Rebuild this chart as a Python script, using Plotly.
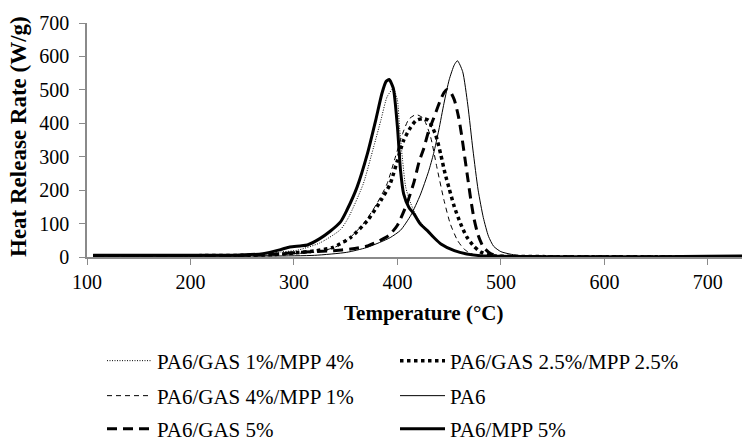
import plotly.graph_objects as go

# ---------------- data ----------------
t_gas1 = [106, 200, 250, 270, 287, 303, 325, 345, 353, 367, 377, 384, 390, 396, 400, 402, 405, 408, 413, 419, 429, 438, 448, 461, 474, 500, 600, 700, 733]
h_gas1 = [4, 4, 5, 8, 15, 20, 42, 82, 120, 219, 329, 409, 479, 504, 469, 389, 289, 209, 159, 119, 79, 49, 29, 14, 7, 2, 1, 2, 3]

t_gas25 = [106, 200, 250, 280, 300, 320, 338, 355, 371, 384, 393, 400, 406, 413, 418, 424, 430, 437, 442, 446, 450, 455, 461, 467, 474, 480, 487, 495, 550, 733]
h_gas25 = [4, 4, 5, 7, 12, 18, 29, 59, 109, 169, 219, 289, 349, 389, 408, 414, 409, 365, 305, 250, 205, 150, 100, 60, 32, 16, 7, 3, 1, 1]

t_gas4 = [106, 200, 250, 280, 300, 325, 340, 351, 367, 380, 390, 398, 405, 411, 418, 425, 432, 438, 445, 451, 458, 464, 471, 480, 500, 733]
h_gas4 = [3, 3, 4, 6, 10, 16, 30, 49, 99, 159, 219, 299, 369, 412, 426, 415, 360, 270, 170, 100, 50, 25, 10, 3, 1, 1]

t_pa6 = [106, 200, 280, 320, 351, 370, 384, 393, 403, 413, 422, 430, 435, 440, 445, 450, 455, 458, 463, 468, 473, 478, 483, 488, 493, 500, 510, 520, 550, 700, 733]
h_pa6 = [2, 2, 3, 5, 14, 28, 45, 58, 80, 125, 185, 255, 310, 380, 460, 530, 575, 587, 555, 455, 320, 200, 118, 62, 32, 16, 8, 4, 1, 2, 3]

t_gas5 = [106, 200, 250, 280, 306, 338, 355, 370, 383, 392, 400, 409, 416, 421, 425.5, 430, 435, 441, 445, 448, 451, 455, 459, 462, 465, 468, 471, 474, 478, 483, 490, 497, 550, 733]
h_gas5 = [4, 4, 5, 8, 14, 19, 24, 32, 49, 65, 95, 158, 224, 285, 325, 375, 415, 465, 492, 501, 495, 470, 420, 365, 300, 235, 170, 115, 65, 30, 10, 3, 1, 1]

t_mpp5 = [106, 150, 200, 250, 270, 287, 296, 306, 313, 325, 335, 345, 351, 361, 371, 379, 385, 389, 392, 396, 400, 403, 406, 411, 416, 422, 429, 435, 442, 455, 467, 480, 500, 550, 600, 650, 700, 733]
h_mpp5 = [5, 5, 5, 6, 10, 22, 30, 33, 36, 55, 77, 105, 139, 209, 309, 409, 489, 525, 531, 505, 389, 259, 189, 149, 129, 99, 79, 59, 39, 19, 9, 4, 2, 1, 1, 1, 2, 3]

names = ["PA6/GAS 1%/MPP 4%", "PA6/GAS 2.5%/MPP 2.5%", "PA6/GAS 4%/MPP 1%",
         "PA6", "PA6/GAS 5%", "PA6/MPP 5%"]

x_ticks = [100, 200, 300, 400, 500, 600, 700]
y_ticks = [0, 100, 200, 300, 400, 500, 600, 700]

FONT = "Liberation Serif, Times New Roman, serif"

series = [
    (t_gas1, h_gas1, names[0], dict(color="black", width=1, dash="1px,1.5px")),
    (t_gas25, h_gas25, names[1], dict(color="black", width=3.5, dash="dot")),
    (t_gas4, h_gas4, names[2], dict(color="black", width=1, dash="5px,4px")),
    (t_pa6, h_pa6, names[3], dict(color="black", width=1)),
    (t_gas5, h_gas5, names[4], dict(color="black", width=3, dash="10px,6px")),
    (t_mpp5, h_mpp5, names[5], dict(color="black", width=3)),
]

# legend grid: (column left px, row centre px) for each entry
leg_cols = [102, 395]
leg_rows = [361, 396, 429]

fig = go.Figure()
legends = {}
for i, (t, h, nm, ln) in enumerate(series):
    key = "legend" if i == 0 else f"legend{i + 1}"
    fig.add_trace(go.Scatter(x=t, y=h, name=nm, mode="lines",
                             line=dict(shape="spline", smoothing=0.6, **ln),
                             legend=key))
    col, row = i % 2, i // 2
    legends[key] = dict(orientation="v", xref="container", yref="container",
                        x=leg_cols[col] / 750, y=1 - leg_rows[row] / 441,
                        xanchor="left", yanchor="middle", itemwidth=45,
                        font=dict(family=FONT, size=21, color="black"),
                        bgcolor="rgba(0,0,0,0)")

axis_color = "#8a8a8a"
L, R, T, B = 87, 8, 23, 184
plot_h = 441 - T - B
plot_w = 750 - L - R

fig.update_layout(
    width=750, height=441,
    margin=dict(l=L, r=R, t=T, b=B, autoexpand=False),
    paper_bgcolor="white", plot_bgcolor="white",
    font=dict(family=FONT, size=20, color="black"),
    showlegend=True,
    xaxis=dict(range=[100, 733], tickvals=x_ticks, ticktext=[str(v) for v in x_ticks],
               showgrid=False, zeroline=False, showline=True, linecolor=axis_color,
               linewidth=1.5, ticks="outside", ticklen=6, tickcolor=axis_color,
               tickfont=dict(family=FONT, size=20, color="black")),
    yaxis=dict(range=[0, 700], tickvals=y_ticks, ticktext=[str(v) for v in y_ticks],
               showgrid=False, zeroline=False, showline=True, linecolor=axis_color,
               linewidth=1.5, ticks="outside", ticklen=6, tickcolor=axis_color,
               ticklabelstandoff=6,
               tickfont=dict(family=FONT, size=20, color="black")),
    annotations=[
        dict(text="<b>Heat Release Rate (W/g)</b>", textangle=-90,
             xref="paper", yref="paper",
             x=(18 - L) / plot_w, y=(441 - B - 137) / plot_h,
             xanchor="center", yanchor="middle", showarrow=False,
             font=dict(family=FONT, size=23, color="black")),
        dict(text="<b>Temperature (°C)</b>",
             xref="paper", yref="paper",
             x=(423 - L) / plot_w, y=(441 - B - 313) / plot_h,
             xanchor="center", yanchor="middle", showarrow=False,
             font=dict(family=FONT, size=21, color="black")),
    ],
    **legends,
)

fig.write_html("out.html")
